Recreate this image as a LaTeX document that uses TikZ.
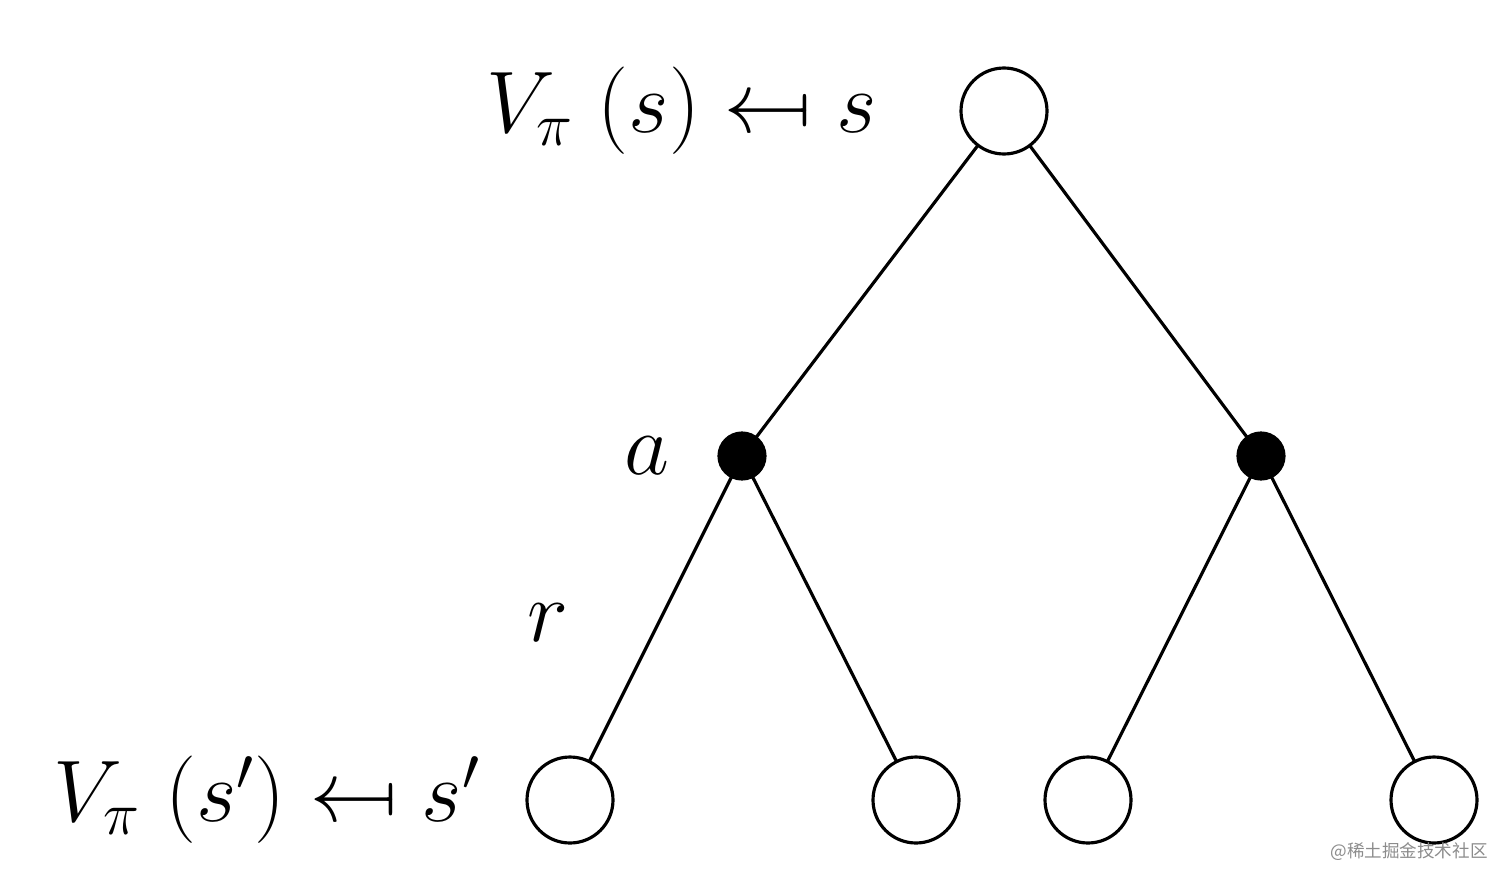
\documentclass[tikz,border=0pt]{standalone}
\usepackage{amsmath,amssymb}
\usepackage{graphicx}
\usepackage{fontspec}
\usepackage{tikz}
\usepackage{tkz-graph}
\newfontfamily\cjkwm{Noto Sans CJK SC}
\newcommand{\mapsleft}{\mathrel{\reflectbox{$\mapsto$}}}

\begin{document}
\begin{tikzpicture}
        \useasboundingbox (0,0) rectangle (15.12,8.85);
        \tikzset{every node/.append style={font=\fontsize{23}{28}\selectfont}}
        \tikzset{VertexStyle/.style={draw, circle, fill=white, line width=0.9pt,
                 minimum size=0.86cm, inner sep=0pt}}
        \Vertex[NoLabel, x=10.04, y=7.74]{R}
        \Vertex[NoLabel, x=5.70, y=0.85]{L1}
        \Vertex[NoLabel, x=9.16, y=0.85]{L2}
        \Vertex[NoLabel, x=10.88, y=0.85]{L3}
        \Vertex[NoLabel, x=14.34, y=0.85]{L4}
        \tikzset{VertexStyle/.style={draw, circle, fill=black, line width=0.9pt,
                 minimum size=0.46cm, inner sep=0pt}}
        \Vertex[NoLabel, x=7.42, y=4.29]{A1}
        \Vertex[NoLabel, x=12.61, y=4.29]{A2}
        \node[anchor=east] (top) at ([xshift=-0.72cm]R.west) {$V_\pi\;(s)\mapsleft s$};
        \node[anchor=east] (bot) at ([xshift=-0.34cm]L1.west) {$V_\pi\;(s')\mapsleft s'$};
        \node[anchor=east] (act) at ([xshift=-0.37cm]A1.west) {$a$};
        \node (rew) at (5.48,2.62) {$r$};
        \node[anchor=south east, text=black!45] (wm) at (15.0,0.12)
             {\fontsize{5}{6}\selectfont\cjkwm @稀土掘金技术社区};
        \tikzset{EdgeStyle/.style={line width=0.9pt}}
        \Edge(R)(A1)
        \Edge(R)(A2)
        \Edge(A1)(L1)
        \Edge(A1)(L2)
        \Edge(A2)(L3)
        \Edge(A2)(L4)
    \end{tikzpicture}
\end{document}
